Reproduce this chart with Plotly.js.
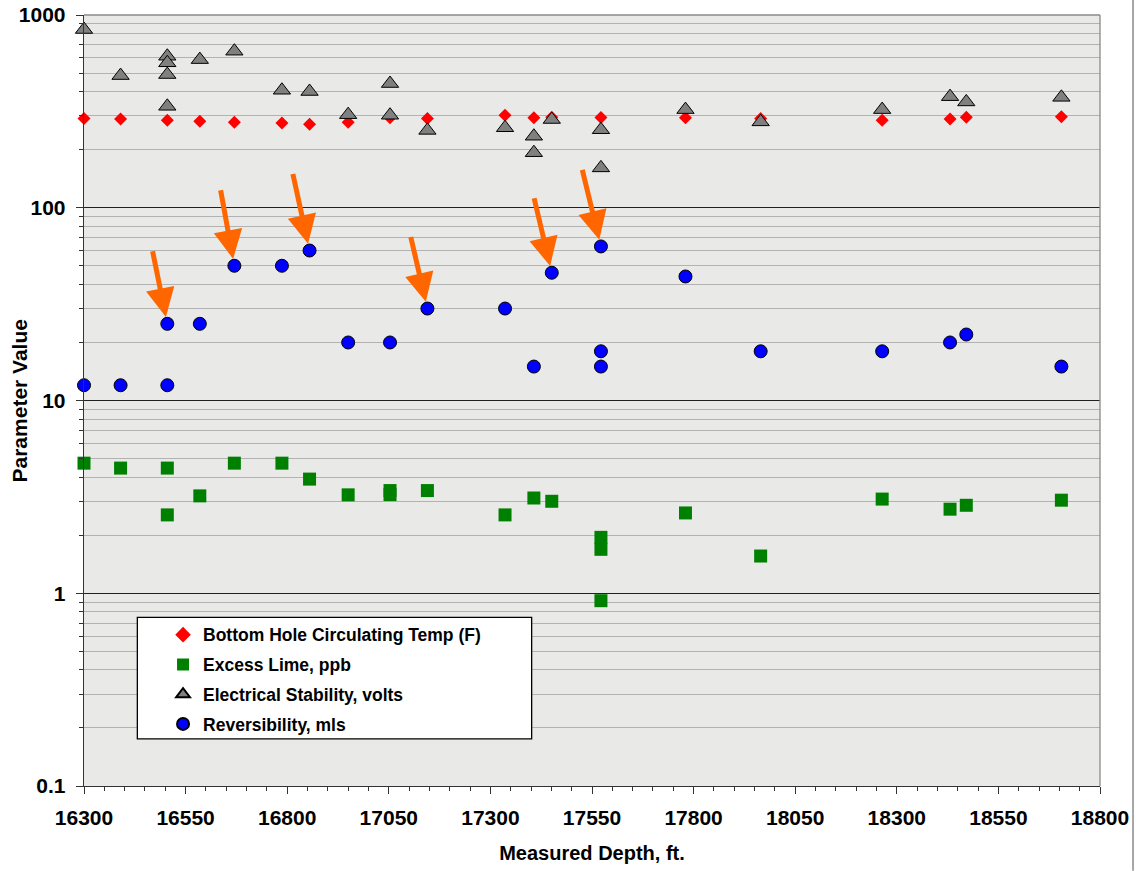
<!DOCTYPE html>
<html>
<head>
<meta charset="utf-8">
<script src="https://cdn.plot.ly/plotly-3.0.1.min.js"></script>
<style>
  html, body { margin: 0; padding: 0; background: #ffffff; }
  #chart { width: 1138px; height: 871px; }
</style>
</head>
<body>
<div id="chart"></div>
<script>
// ---------------- DATA ----------------
const seriesNames = [
  "Bottom Hole Circulating Temp (F)",
  "Excess Lime, ppb",
  "Electrical Stability, volts",
  "Reversibility, mls"
];

// Bottom Hole Circulating Temp (F)
const bhctDepth = [16300, 16390, 16505, 16585, 16670, 16787, 16855, 16950, 17053, 17145,
                   17336, 17407, 17451, 17572, 17780, 17965, 18264, 18431, 18471, 18705];
const bhctValue = [290, 289, 284, 281, 278, 275, 271, 278, 293, 290,
                   302, 293, 295, 294, 293, 290, 284, 289, 295, 297];

// Excess Lime, ppb
const limeDepth = [16300, 16390, 16505, 16505, 16585, 16670, 16787, 16855, 16950, 17053, 17053,
                   17145, 17336, 17407, 17451, 17572, 17572, 17572, 17780, 17965, 18264, 18431, 18471, 18705];
const limeValue = [4.73, 4.46, 4.46, 2.55, 3.20, 4.73, 4.73, 3.91, 3.24, 3.41, 3.25,
                   3.41, 2.55, 3.12, 3.00, 1.95, 1.69, 0.915, 2.61, 1.56, 3.08, 2.73, 2.86, 3.04];

// Electrical Stability, volts
const esDepth = [16300, 16390, 16505, 16505, 16505, 16505, 16585, 16670, 16787, 16855, 16950,
                 17053, 17053, 17145, 17336, 17407, 17407, 17451, 17572, 17572, 17780, 17965,
                 18264, 18431, 18471, 18705];
const esValue = [841, 485, 611, 565, 491, 336, 587, 649, 407, 401, 304,
                 441, 302, 252, 260, 235, 193, 287, 254, 161, 323, 279,
                 323, 377, 354, 374];

// Reversibility, mls
const revDepth = [16300, 16390, 16505, 16505, 16585, 16670, 16787, 16855, 16950, 17053, 17145,
                  17336, 17407, 17451, 17572, 17572, 17572, 17780, 17965, 18264, 18431, 18471, 18705];
const revValue = [12, 12, 12, 25, 25, 50, 50, 60, 20, 20, 30,
                  30, 15, 46, 63, 18, 15, 44, 18, 18, 20, 22, 15];

// Highlighted reversibility points (orange arrows)
const arrowDepth = [16505, 16670, 16855, 17145, 17451, 17572];
const arrowValue = [25, 50, 60, 30, 46, 63];

// Axis ticks
const yTickVals = [0.1, 1, 10, 100, 1000];
const yTickText = ["0.1", "1", "10", "100", "1000"];
const yMinorVals = [0.2,0.3,0.4,0.5,0.6,0.7,0.8,0.9, 2,3,4,5,6,7,8,9,
                    20,30,40,50,60,70,80,90, 200,300,400,500,600,700,800,900];
const xTickStart = 16300, xTickStep = 250, xTickEnd = 18800, xMinorStep = 50;

// ---------------- STYLE ----------------
const FONT = "'Liberation Sans', Arial, Helvetica, sans-serif";
const arrowTailOffsets = [[-15, -74], [-14, -77], [-17, -78], [-17, -73], [-18, -76], [-19, -78]];

const traces = [
  {
    x: bhctDepth, y: bhctValue, name: seriesNames[0], type: "scatter", mode: "markers",
    legendgroup: "g1", cliponaxis: false,
    marker: { symbol: "diamond", size: 10, color: "#ff0000", line: { width: 0 } }
  },
  {
    x: limeDepth, y: limeValue, name: seriesNames[1], type: "scatter", mode: "markers",
    legendgroup: "g2", cliponaxis: false,
    marker: { symbol: "square", size: 13, color: "#008000", line: { width: 0 } }
  },
  {
    x: esDepth, y: esValue, name: seriesNames[2], type: "scatter", mode: "markers",
    legendgroup: "g3", cliponaxis: false,
    marker: { symbol: "triangle-up", size: 15, color: "#808080", line: { width: 1, color: "#000000" } }
  },
  {
    x: revDepth, y: revValue, name: seriesNames[3], type: "scatter", mode: "markers",
    legendgroup: "g4", cliponaxis: false,
    marker: { symbol: "circle", size: 13, color: "#0000ff", line: { width: 1, color: "#000000" } }
  }
];

const annotations = arrowDepth.map((d, i) => ({
  x: d, y: Math.log10(arrowValue[i]), xref: "x", yref: "y",
  ax: arrowTailOffsets[i][0], ay: arrowTailOffsets[i][1],
  axref: "pixel", ayref: "pixel",
  text: "", showarrow: true,
  arrowhead: 2, arrowsize: 1.15, arrowwidth: 5, arrowcolor: "#ff6600",
  standoff: 7
}));

annotations.push({
  text: "Parameter Value", xref: "paper", yref: "paper",
  x: -0.063, y: 0.5, xanchor: "center", yanchor: "middle",
  textangle: -90, showarrow: false,
  font: { family: FONT, size: 21, color: "#000", weight: "bold" }
});

const layout = {
  width: 1138, height: 871,
  margin: { l: 84, r: 38, t: 15, b: 85, pad: 0 },
  paper_bgcolor: "#ffffff",
  plot_bgcolor: "#e9e9e7",
  showlegend: true,
  font: { family: FONT, color: "#000" },
  xaxis: {
    type: "linear", range: [xTickStart, xTickEnd], autorange: false,
    tickmode: "linear", tick0: xTickStart, dtick: xTickStep,
    tickformat: "d", exponentformat: "none", separatethousands: false,
    ticks: "outside", ticklen: 7, tickwidth: 1, tickcolor: "#333",
    ticklabelstandoff: 5,
    minor: { dtick: xMinorStep, ticks: "outside", ticklen: 4, tickwidth: 1, tickcolor: "#333", showgrid: false },
    showgrid: false, zeroline: false,
    showline: true, linecolor: "#333", linewidth: 1.3,
    tickfont: { family: FONT, size: 21, color: "#000", weight: "bold" },
    title: { text: "Measured Depth, ft.", standoff: 18,
             font: { family: FONT, size: 20, color: "#000", weight: "bold" } },
    automargin: false
  },
  yaxis: {
    type: "log", range: [-1, 3], autorange: false,
    tickmode: "array", tickvals: yTickVals, ticktext: yTickText,
    ticks: "outside", ticklen: 7, tickwidth: 1, tickcolor: "#333",
    ticklabelstandoff: 6,
    minor: { tickmode: "array", tickvals: yMinorVals,
             ticks: "outside", ticklen: 4, tickwidth: 1, tickcolor: "#333",
             showgrid: true, gridcolor: "#b2b2b2", gridwidth: 1 },
    showgrid: true, gridcolor: "#222", gridwidth: 1,
    zeroline: false,
    showline: true, linecolor: "#333", linewidth: 1.3,
    tickfont: { family: FONT, size: 21, color: "#000", weight: "bold" },
    automargin: false
  },
  legend: {
    x: 0.0778, y: 0.2195, xanchor: "left", yanchor: "top",
    bgcolor: "rgba(0,0,0,0)", borderwidth: 0,
    traceorder: "grouped", tracegroupgap: 4,
    itemsizing: "constant",
    font: { family: FONT, size: 17.5, color: "#000", weight: "bold" }
  },
  shapes: [
    // legend box
    { type: "rect", xref: "paper", yref: "paper", x0: 0.0525, x1: 0.4406, y0: 0.061, y1: 0.2188,
      fillcolor: "#ffffff", line: { color: "#000", width: 1.3 }, layer: "above" },
    // top & right plot frame
    { type: "line", xref: "paper", yref: "paper", x0: 0, x1: 1, y0: 1, y1: 1,
      line: { color: "#8a8a8a", width: 1.3 }, layer: "above" },
    { type: "line", xref: "paper", yref: "paper", x0: 1, x1: 1, y0: 0, y1: 1,
      line: { color: "#8a8a8a", width: 1.3 }, layer: "above" },
    // outer chart border on the right
    { type: "line", xref: "paper", yref: "paper", x0: 1.0325, x1: 1.0325, y0: -0.11, y1: 1.0195,
      line: { color: "#8a8a8a", width: 1.5 }, layer: "above" }
  ],
  annotations: annotations
};

Plotly.newPlot("chart", traces, layout, { staticPlot: true, displayModeBar: false });
</script>
</body>
</html>
